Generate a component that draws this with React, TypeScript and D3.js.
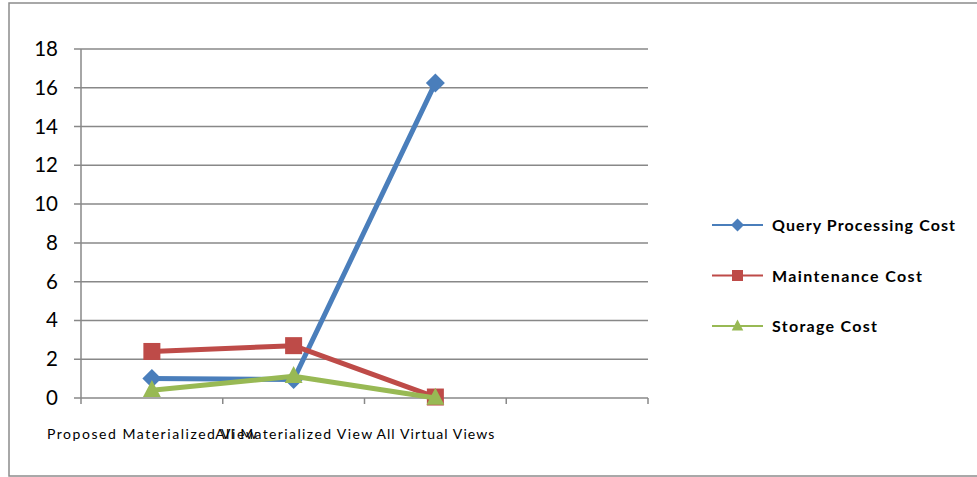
import React from "react";
import * as d3 from "d3";

const categories = ["Proposed Materialized View", "All Materialized View", "All Virtual Views", ""];
const queryProcessingCost = [1.0, 0.95, 16.25];
const maintenanceCost = [2.4, 2.7, 0.05];
const storageCost = [0.4, 1.12, 0.0];
const yTicks = [0, 2, 4, 6, 8, 10, 12, 14, 16, 18];

const seriesList = [
  { name: "Query Processing Cost", values: queryProcessingCost, color: "#4A7EBB", marker: "diamond", labelWidth: 183 },
  { name: "Maintenance Cost", values: maintenanceCost, color: "#BE4B48", marker: "square", labelWidth: 150 },
  { name: "Storage Cost", values: storageCost, color: "#98B954", marker: "triangle", labelWidth: 105 },
];

const labelWidths = [210, 157, 118];

const W = 977;
const H = 477;
const plot = { left: 81, right: 648, top: 49, bottom: 398 };
const font = "Lato, 'Open Sans', sans-serif";

function Marker({ kind, x, y, size, color }: { kind: string; x: number; y: number; size: number; color: string }) {
  if (kind === "diamond") {
    const r = size / 2;
    return <path d={`M${x},${y - r}L${x + r},${y}L${x},${y + r}L${x - r},${y}Z`} fill={color} />;
  }
  if (kind === "square") {
    const r = size / 2;
    return <rect x={x - r} y={y - r} width={size} height={size} fill={color} />;
  }
  const h = size;
  const w = size * 1.05;
  return <path d={`M${x},${y - h * 0.6}L${x + w / 2},${y + h * 0.4}L${x - w / 2},${y + h * 0.4}Z`} fill={color} />;
}

export default function App() {
  const x = d3.scaleBand<string>().domain(categories.map((c, i) => String(i))).range([plot.left, plot.right]).paddingInner(0).paddingOuter(0);
  const y = d3.scaleLinear().domain([0, 18]).range([plot.bottom, plot.top]);
  const cx = (i: number) => (x(String(i)) as number) + x.bandwidth() / 2;
  const line = d3
    .line<number>()
    .x((_, i) => cx(i))
    .y((v) => y(v));
  const grid = "#888888";

  return (
    <svg width={W} height={H} style={{ position: "absolute", left: 0, top: 0, background: "#fff" }}>
      <rect x={9} y={3} width={990} height={473} fill="#fff" stroke="#8c8c8c" strokeWidth={1.5} />
      {yTicks.map((t) => (
        <g key={t}>
          <line x1={74} x2={plot.right} y1={y(t)} y2={y(t)} stroke={grid} strokeWidth={1.5} />
          <text x={58} y={y(t) + 7} textAnchor="end" fontFamily={font} fontSize={20.5} fill="#000">
            {t}
          </text>
        </g>
      ))}
      <line x1={plot.left} x2={plot.left} y1={plot.top} y2={plot.bottom + 6} stroke={grid} strokeWidth={1.5} />
      {categories.map((c, i) => (
        <line key={"t" + i} x1={(x(String(i)) as number) + x.bandwidth()} x2={(x(String(i)) as number) + x.bandwidth()} y1={plot.bottom} y2={plot.bottom + 6} stroke={grid} strokeWidth={1.5} />
      ))}
      {categories.map((c, i) =>
        c ? (
          <text key={"c" + i} x={cx(i)} y={439} textAnchor="middle" fontFamily={font} fontSize={14} textLength={labelWidths[i]} lengthAdjust="spacing" fill="#000">
            {c}
          </text>
        ) : null
      )}
      {seriesList.map((s) => (
        <g key={s.name}>
          <path d={line(s.values) as string} fill="none" stroke={s.color} strokeWidth={5} strokeLinejoin="round" />
          {s.values.map((v, i) => (
            <Marker key={i} kind={s.marker} x={cx(i)} y={y(v)} size={s.marker === "diamond" ? 19 : 17} color={s.color} />
          ))}
        </g>
      ))}
      {seriesList.map((s, k) => {
        const ly = 225 + k * 50.5;
        return (
          <g key={"l" + k}>
            <line x1={712} x2={763} y1={ly} y2={ly} stroke={s.color} strokeWidth={2} />
            <Marker kind={s.marker} x={737.5} y={ly} size={s.marker === "diamond" ? 13 : 11} color={s.color} />
            <text x={772} y={ly + 6} fontFamily={font} fontWeight="bold" fontSize={16} textLength={s.labelWidth} lengthAdjust="spacing" fill="#000">
              {s.name}
            </text>
          </g>
        );
      })}
    </svg>
  );
}
